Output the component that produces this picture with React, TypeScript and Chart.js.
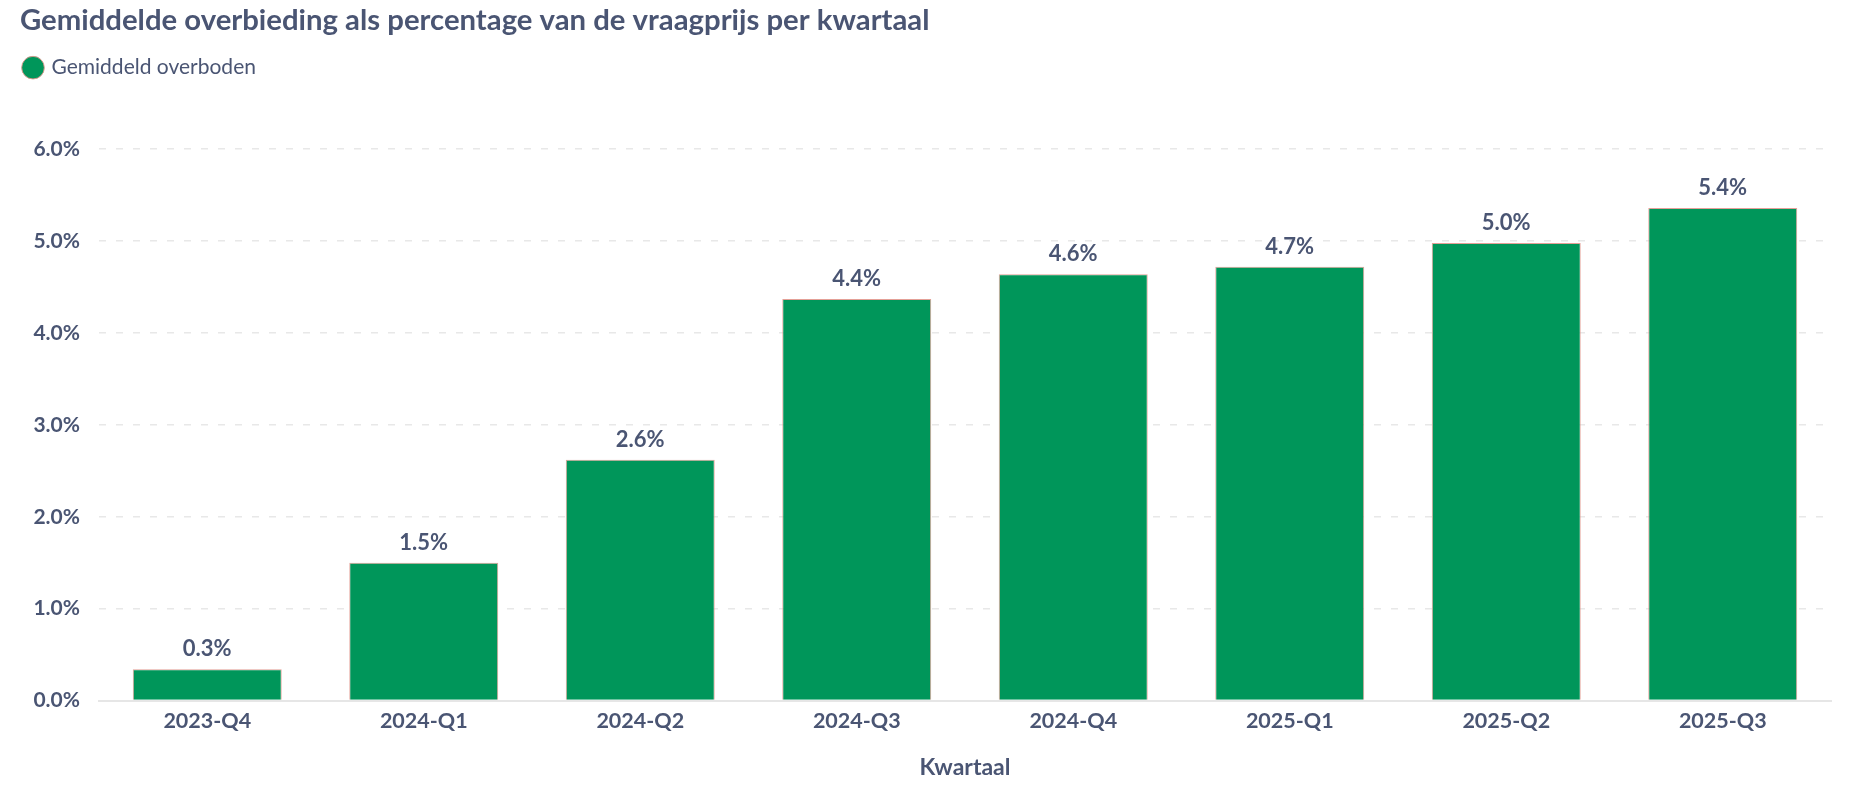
import React, { useEffect, useRef } from "react";
import { Chart, registerables } from "chart.js";

Chart.register(...registerables);

const categories = ["2023-Q4", "2024-Q1", "2024-Q2", "2024-Q3", "2024-Q4", "2025-Q1", "2025-Q2", "2025-Q3"];
const overbodenValues = [0.34, 1.5, 2.62, 4.37, 4.64, 4.72, 4.98, 5.36];
const seriesLabel = "Gemiddeld overboden";
const chartTitle = "Gemiddelde overbieding als percentage van de vraagprijs per kwartaal";
const xAxisTitle = "Kwartaal";

const TEXT = "#4a5573";
const FONT = "Lato, 'Noto Sans', sans-serif";

const dataLabelPlugin = {
  id: "barValueLabels",
  afterDatasetsDraw(chart: any) {
    const ctx = chart.ctx;
    const meta = chart.getDatasetMeta(0);
    ctx.save();
    ctx.font = `bold 22px ${FONT}`;
    ctx.fillStyle = TEXT;
    ctx.textAlign = "center";
    ctx.textBaseline = "middle";
    meta.data.forEach((bar: any, i: number) => {
      const v = chart.data.datasets[0].data[i] as number;
      ctx.fillText(v.toFixed(1) + "%", bar.x, bar.y - 20);
    });
    ctx.restore();
  },
};

const legendHeightPlugin = {
  id: "legendHeight",
  beforeInit(chart: any) {
    const legend = chart.legend;
    if (!legend) return;
    const orig = legend.fit;
    legend.fit = function () {
      orig.call(this);
      this.height = 97;
    };
  },
};

export default function App() {
  const canvasRef = useRef<HTMLCanvasElement | null>(null);

  useEffect(() => {
    document.body.style.margin = "0";
    const canvas = canvasRef.current;
    if (!canvas) return;
    const chart = new Chart(canvas, {
      type: "bar",
      data: {
        labels: categories,
        datasets: [
          {
            label: seriesLabel,
            data: overbodenValues,
            backgroundColor: "#00965a",
            borderColor: "rgba(225,150,140,0.9)",
            borderWidth: 1,
            barPercentage: 0.86,
            categoryPercentage: 0.8,
          },
        ],
      },
      options: {
        responsive: false,
        animation: false,
        devicePixelRatio: 1,
        layout: { padding: { left: 20, right: 29, top: 0, bottom: 0 } },
        plugins: {
          title: {
            display: true,
            text: chartTitle,
            align: "start",
            color: TEXT,
            font: { family: FONT, size: 29.3, weight: "bold", lineHeight: 1.2 },
            padding: { top: 2.5, bottom: 14.5 },
          },
          legend: {
            display: true,
            align: "start",
            labels: {
              usePointStyle: true,
              pointStyle: "circle",
              boxWidth: 16,
              boxHeight: 16,
              padding: 5,
              color: TEXT,
              font: { family: FONT, size: 21 },
            },
          },
          tooltip: { enabled: false },
        },
        scales: {
          x: {
            grid: { display: false, drawTicks: false },
            border: { display: true, color: "#e6e6e6", width: 2 },
            ticks: {
              color: TEXT,
              padding: 8,
              font: { family: FONT, size: 21.5, weight: "bold" },
            },
            title: {
              display: true,
              text: xAxisTitle,
              color: TEXT,
              font: { family: FONT, size: 23, weight: "bold" },
              padding: { top: 11, bottom: 9 },
            },
          },
          y: {
            min: 0,
            max: 6,
            afterFit(scale: any) {
              scale.width = 79;
            },
            grid: {
              color: "#e8e8e8",
              lineWidth: 1.5,
              drawTicks: false,
            },
            border: { display: false, dash: [7, 10] },
            ticks: {
              stepSize: 1,
              color: TEXT,
              padding: 19,
              font: { family: FONT, size: 21, weight: "bold" },
              callback: (v: any) => Number(v).toFixed(1) + "%",
            },
          },
        },
      },
      plugins: [dataLabelPlugin, legendHeightPlugin],
    });
    return () => chart.destroy();
  }, []);

  return (
    <div style={{ width: 1860, height: 790 }}>
      <canvas ref={canvasRef} width={1860} height={790} style={{ display: "block" }} />
    </div>
  );
}
